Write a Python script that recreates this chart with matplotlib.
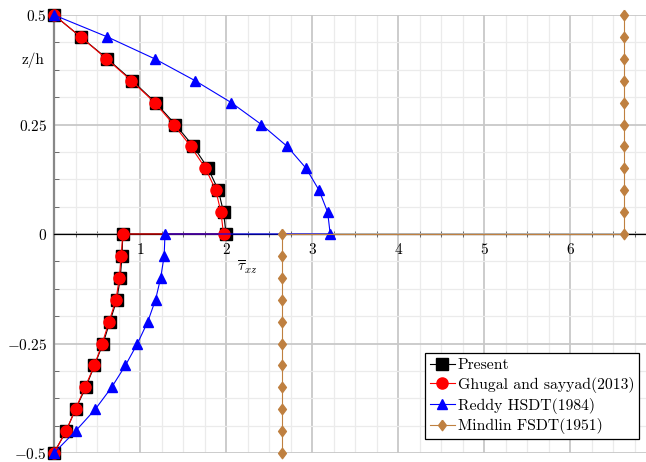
import matplotlib
matplotlib.use("Agg")
import matplotlib.pyplot as plt
from matplotlib.ticker import FixedLocator, FixedFormatter

plt.rcParams["font.family"] = ["cmr10", "DejaVu Serif"]
plt.rcParams["mathtext.fontset"] = "cm"
plt.rcParams["axes.unicode_minus"] = False

# %% Data: shear stress through the thickness
z_upper = [0.5, 0.45, 0.4, 0.35, 0.3, 0.25, 0.2, 0.15, 0.1, 0.05, 0.0]
z_lower = [0.0, -0.05, -0.1, -0.15, -0.2, -0.25, -0.3, -0.35, -0.4, -0.45, -0.5]

present_up = [0.0, 0.31, 0.62, 0.91, 1.18, 1.41, 1.62, 1.79, 1.91, 1.97, 2.0]
present_lo = [0.80, 0.79, 0.77, 0.73, 0.65, 0.57, 0.47, 0.37, 0.25, 0.14, 0.0]

ghugal_up = [0.0, 0.31, 0.61, 0.90, 1.17, 1.39, 1.59, 1.76, 1.88, 1.94, 1.97]
ghugal_lo = [0.80, 0.78, 0.76, 0.72, 0.64, 0.56, 0.47, 0.36, 0.25, 0.14, 0.0]

reddy_up = [0.0, 0.62, 1.17, 1.64, 2.06, 2.41, 2.71, 2.93, 3.08, 3.18, 3.21]
reddy_lo = [1.29, 1.28, 1.24, 1.18, 1.09, 0.97, 0.83, 0.67, 0.48, 0.25, 0.0]

mindlin_up = [6.62, 6.62, 6.62, 6.62, 6.62, 6.62, 6.62, 6.62, 6.62, 6.62, 6.62]
mindlin_lo = [2.65, 2.65, 2.65, 2.65, 2.65, 2.65, 2.65, 2.65, 2.65, 2.65, 2.65]

x_major = [1, 2, 3, 4, 5, 6]
x_labels = ["$1$", "$2$", "$3$", "$4$", "$5$", "$6$"]
y_major = [-0.5, -0.25, 0, 0.25, 0.5]
y_labels = ["$-0.5$", "$-0.25$", "$0$", "$0.25$", "$0.5$"]

brown = "#bf8040"
# pgfplots-like diamond (a bit narrower than tall)
diamond = [(0, 1), (0.75, 0), (0, -1), (-0.75, 0), (0, 1)]

################################################################################
# %% Plot

fig = plt.figure(figsize=(6.46, 4.62), dpi=100)
ax = fig.add_axes([54 / 646, 9 / 462, 592 / 646, 438 / 462])

z_all = z_upper + z_lower

series = [
    (present_up + present_lo, "Present", "k", "s", 8.5),
    (ghugal_up + ghugal_lo, "Ghugal and sayyad(2013)", "red", "o", 8),
    (reddy_up + reddy_lo, "Reddy HSDT(1984)", "blue", "^", 7.5),
    (mindlin_up + mindlin_lo, "Mindlin FSDT(1951)", brown, diamond, 7.5),
]

for xs, name, col, mk, ms in series:
    ax.plot(xs, z_all, color=col, lw=0.8, marker=mk, markersize=ms,
            markerfacecolor=col, markeredgecolor=col, label=name,
            zorder=3, clip_on=False)

ax.set_xlim(0, 6.88)
ax.set_ylim(-0.5, 0.5)

ax.spines["top"].set_visible(False)
ax.spines["right"].set_visible(False)
ax.spines["bottom"].set_position(("data", 0))
ax.spines["bottom"].set_color("black")
ax.spines["bottom"].set_linewidth(0.9)
ax.spines["left"].set_color("#888888")
ax.spines["left"].set_linewidth(1.6)

ax.xaxis.set_major_locator(FixedLocator(x_major))
ax.xaxis.set_major_formatter(FixedFormatter(x_labels))
ax.xaxis.set_minor_locator(FixedLocator([i * 0.25 for i in range(1, 28)]))
ax.yaxis.set_major_locator(FixedLocator(y_major))
ax.yaxis.set_major_formatter(FixedFormatter(y_labels))
ax.yaxis.set_minor_locator(FixedLocator([-0.5 + i * 0.0625 for i in range(17)]))

ax.tick_params(axis="both", which="major", labelsize=11, length=0, pad=6)
ax.tick_params(axis="x", which="minor", direction="inout", length=4,
               color="#555555", width=0.6)
ax.tick_params(axis="y", which="minor", direction="in", length=3.5,
               color="#555555", width=0.6)
ax.tick_params(axis="y", which="major", pad=5)

ax.grid(True, which="major", color="#c8c8c8", lw=1.3)
ax.grid(True, which="minor", color="#ebebeb", lw=0.9)
ax.set_axisbelow(True)

ax.text(2.25, -0.075, r"$\overline{\tau}_{xz}$", fontsize=11,
        ha="center", va="center")
ax.text(-0.24, 0.397, "z/h", fontsize=11, ha="center", va="center",
        clip_on=False)

leg = ax.legend(loc="lower right", bbox_to_anchor=(639 / 646, 23 / 462),
                bbox_transform=fig.transFigure, fontsize=11.3, frameon=True,
                fancybox=False, edgecolor="black", framealpha=1,
                handlelength=1.6, handletextpad=0.2, borderpad=0.3,
                labelspacing=0.3, borderaxespad=0)
leg.get_frame().set_linewidth(0.9)
leg.set_zorder(5)

fig.savefig("out.png", dpi=100)
